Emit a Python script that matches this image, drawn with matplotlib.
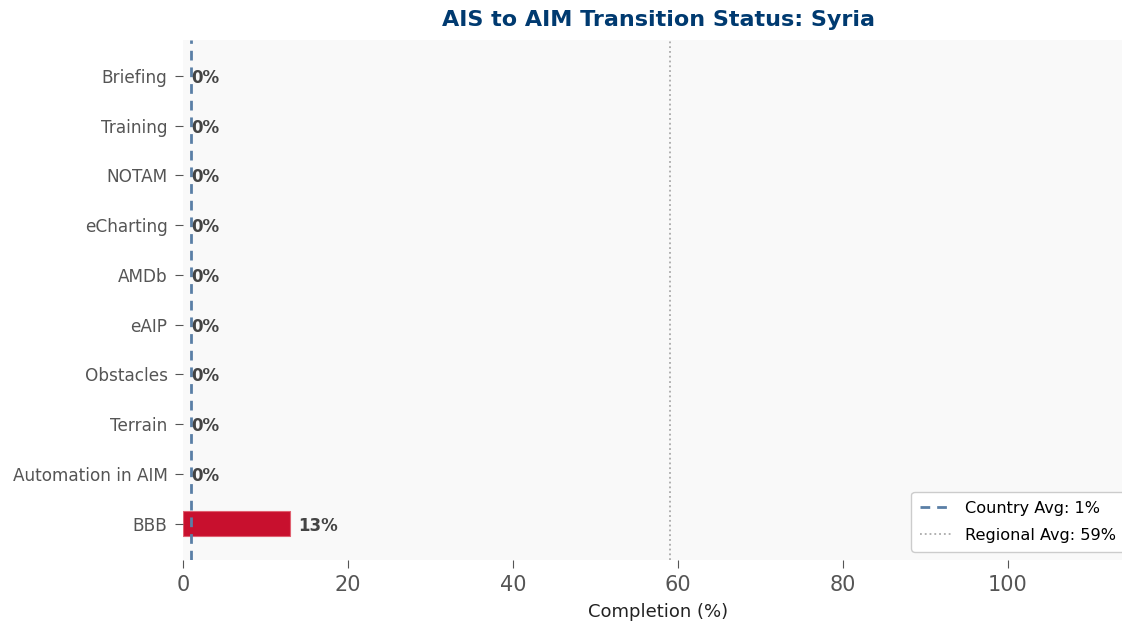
import matplotlib
matplotlib.use("Agg")
import matplotlib.pyplot as plt

categories = ["BBB", "Automation in AIM", "Terrain", "Obstacles", "eAIP", "AMDb",
              "eCharting", "NOTAM", "Training", "Briefing"]
values = [13, 0, 0, 0, 0, 0, 0, 0, 0, 0]
country_avg = 1
regional_avg = 59

fig = plt.figure(figsize=(11.22, 6.24), dpi=100)
ax = fig.add_axes([0.163, 0.103, 0.847, 0.833])
ax.set_facecolor("#f9f9f9")

ypos = list(range(len(categories)))
lws = [0.8 if v > 0 else 0 for v in values]
ax.barh(ypos, values, height=0.5, color="#c8102e", edgecolor="#e06070", linewidth=lws)
for y, v in zip(ypos, values):
    ax.text(v + 1.0, y, f"{v}%", va="center_baseline", ha="left",
            fontsize=12, fontweight="bold", color="#444444")

ax.axvline(country_avg, color="#5a7fa6", linestyle="--", linewidth=2, label=f"Country Avg: {country_avg}%", dashes=(3.5, 2.5))
ax.axvline(regional_avg, color="#aaaaaa", linestyle=":", linewidth=1.3, label=f"Regional Avg: {regional_avg}%")

ax.set_yticks(ypos)
ax.set_yticklabels(categories)
ax.set_xlim(0, 115.2)
ax.set_xticks([0, 20, 40, 60, 80, 100])
ax.tick_params(axis="y", labelsize=12.2, colors="#555555", length=6, pad=5)
ax.tick_params(axis="x", labelsize=15, colors="#555555", length=6, pad=5)
for s in ax.spines.values():
    s.set_visible(False)

ax.set_xlabel("Completion (%)", fontsize=13, color="#222222", labelpad=6)
ax.set_title("AIS to AIM Transition Status: Syria", fontsize=16, fontweight="bold", color="#003a70", pad=10)
ax.legend(loc="lower right", fontsize=11.6, frameon=True, framealpha=1, edgecolor="#cccccc",
          borderpad=0.55, labelspacing=0.75)

fig.savefig("out.png", dpi=100)
